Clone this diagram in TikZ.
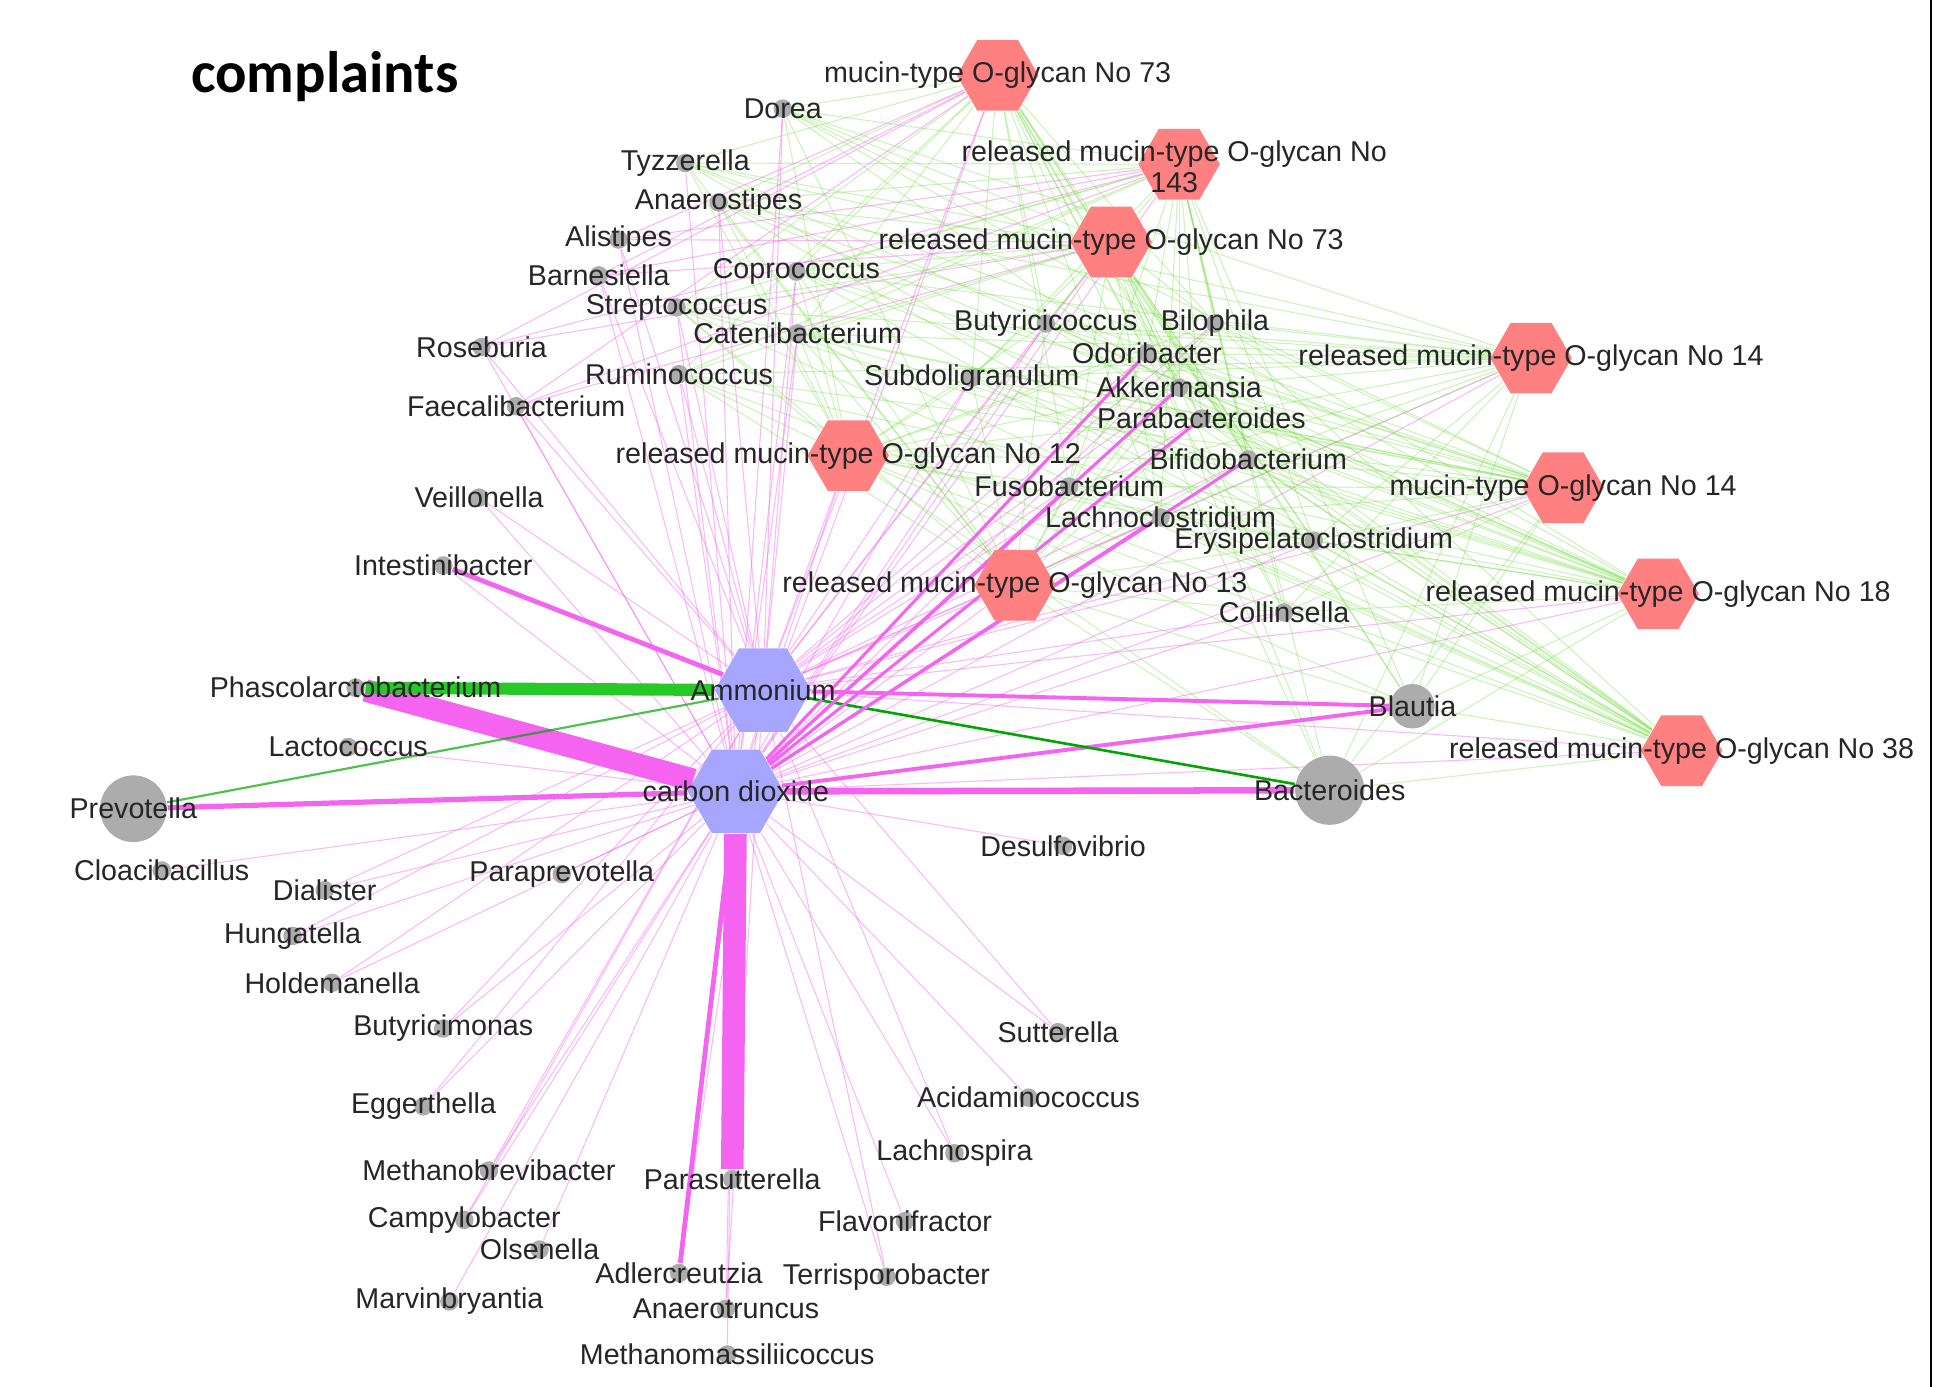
\documentclass[tikz,border=0pt]{standalone}
\usepackage{fontspec}
\setmainfont{Liberation Sans}
\newfontfamily\titlefont{Carlito}
\usetikzlibrary{shapes.geometric,backgrounds}
\definecolor{edgepink}{RGB}{244,100,240}
\definecolor{edgegreen}{RGB}{110,220,60}
\tikzset{
  bac/.style={circle, fill=gray!65, inner sep=0pt, minimum size=0.15cm},
  lbl/.style={font=\fontsize{6.6}{7}\selectfont, text=black!85},
  glycan/.style={regular polygon, regular polygon sides=6, fill=red!50!white, draw=none, minimum size=0.66cm, inner sep=0pt},
  metab/.style={regular polygon, regular polygon sides=6, fill=blue!35!white, draw=none, minimum size=0.78cm, inner sep=0pt},
  pinkedge/.style={draw=edgepink, line width=0.25pt, opacity=0.45},
  greenedge/.style={draw=edgegreen, line width=0.25pt, opacity=0.35},
  fatpink/.style={draw=edgepink},
}
\begin{document}
\begin{tikzpicture}[x=0.01cm, y=-0.01cm]
\useasboundingbox (0,0) rectangle (1568,1123);
\draw[line width=0.6pt] (1564,0) -- (1564,1123);
\node[font=\titlefont\bfseries\fontsize{13.5}{16}\selectfont] (title) at (263,62) {complaints};

% metabolites
\node[metab] (amm) at (618,559) {};
\node[metab] (co2) at (596,641) {};
% glycans
\foreach \n/\x/\y in {g73/808/61, r143/955/133, r73/900/196, r14/1240/290, r12/687/369, m14/1266/395, r13/822/474, r18/1343/481, r38/1362/608}
  \node[glycan] (\n) at (\x,\y) {};
% bacteria
\foreach \n/\x/\y in {dorea/634/88, tyzz/555/132, anaero/582/164, alist/501/194, barnes/485/223, copro/645/220, strep/548/249, caten/646/270,
  roseb/390/281, rumino/550/303, faecal/418/329, butyco/847/262, biloph/984/262, odori/929/286, subdol/787/306, akker/955/314,
  parab/973/339, bifido/1011/372, fuso/866/394, lachnocl/940/419, erysip/1064/438, collin/1040/496, veill/388/403, intest/359/458,
  phasco/288/557, lacto/282/605, cloaca/131/705, dial/263/721, parapre/455/708, hung/237/758, holde/269/796, butyri/359/833,
  egger/343/896, methbr/396/948, campy/376/988, olsen/437/1012, marvin/364/1054, adler/550/1031, parasut/593/955, anaerotr/588/1060,
  methma/589/1097, terris/718/1034, flavo/733/989, lachnos/773/934, acidam/833/889, sutter/857/836, desulf/861/685}
  \node[bac] (\n) at (\x,\y) {};
\node[bac, minimum size=0.54cm] (prevo) at (108,655) {};
\node[bac, minimum size=0.36cm] (blautia) at (1144,572) {};
\node[bac, minimum size=0.56cm] (bactero) at (1077,640) {};

% labels
\foreach \n/\t in {dorea/Dorea, tyzz/Tyzzerella, anaero/Anaerostipes, alist/Alistipes, barnes/Barnesiella, copro/Coprococcus,
  strep/Streptococcus, caten/Catenibacterium, roseb/Roseburia, rumino/Ruminococcus, faecal/Faecalibacterium, butyco/Butyricicoccus,
  biloph/Bilophila, odori/Odoribacter, subdol/Subdoligranulum, akker/Akkermansia, parab/Parabacteroides, bifido/Bifidobacterium,
  fuso/Fusobacterium, lachnocl/Lachnoclostridium, erysip/Erysipelatoclostridium, collin/Collinsella, veill/Veillonella,
  intest/Intestinibacter, phasco/Phascolarctobacterium, lacto/Lactococcus, cloaca/Cloacibacillus, dial/Dialister,
  parapre/Paraprevotella, hung/Hungatella, holde/Holdemanella, butyri/Butyricimonas, egger/Eggerthella, methbr/Methanobrevibacter,
  campy/Campylobacter, olsen/Olsenella, marvin/Marvinbryantia, adler/Adlercreutzia, parasut/Parasutterella, anaerotr/Anaerotruncus,
  methma/Methanomassiliicoccus, terris/Terrisporobacter, flavo/Flavonifractor, lachnos/Lachnospira, acidam/Acidaminococcus,
  sutter/Sutterella, desulf/Desulfovibrio, prevo/Prevotella, blautia/Blautia, bactero/Bacteroides, amm/Ammonium, co2/carbon dioxide,
  g73/mucin-type O-glycan No 73, r73/released mucin-type O-glycan No 73, r14/released mucin-type O-glycan No 14,
  r12/released mucin-type O-glycan No 12, m14/mucin-type O-glycan No 14, r13/released mucin-type O-glycan No 13,
  r18/released mucin-type O-glycan No 18, r38/released mucin-type O-glycan No 38}
  \node[lbl] (\n-l) at (\n) {\t};
\node[lbl, align=center] (r143-l) at (951,135) {released mucin-type O-glycan No\\143};

\begin{scope}[on background layer]
% thin metabolite edges
\foreach \b in {dorea, tyzz, anaero, alist, barnes, copro, strep, caten, roseb, rumino, faecal, butyco, biloph, odori, subdol, akker,
  parab, bifido, fuso, lachnocl, erysip, collin, veill, intest, lacto, cloaca, dial, parapre, hung, holde, butyri, egger, methbr,
  campy, olsen, marvin, anaerotr, methma, terris, flavo, lachnos, acidam, sutter, desulf, g73, r143, r73, r14, r12, m14, r13, r18, r38}
  \draw[pinkedge] (co2) -- (\b);
\foreach \b in {dorea, anaero, alist, barnes, copro, strep, caten, roseb, rumino, faecal, butyco, biloph, odori, subdol, akker,
  parab, bifido, fuso, lachnocl, erysip, collin, veill, dial, hung, holde, butyri, egger, methbr, campy, adler, anaerotr,
  terris, lachnos, sutter, g73, r73, r14, r12, m14, r13, r18, r38}
  \draw[pinkedge] (amm) -- (\b);
% glycan edges
\foreach \g in {g73, r143, r73, r14, r12, m14, r13, r18, r38}
  \foreach \b in {dorea, tyzz, anaero, copro, strep, caten, rumino, butyco, biloph, odori, subdol, akker, parab, bifido,
    fuso, lachnocl, erysip, collin, blautia, bactero}
    \draw[greenedge] (\g) -- (\b);
\foreach \g in {g73, r143, r73}
  \foreach \b in {alist, barnes, faecal, roseb}
    \draw[pinkedge] (\g) -- (\b);
% strong edges
\draw[fatpink, line width=5.2pt] (phasco) -- (co2);
\draw[fatpink, line width=5.2pt] (co2) -- (parasut);
\draw[draw=green!75!black!85, line width=2.8pt] (phasco) -- (amm);
\draw[fatpink, line width=1.2pt] (prevo) -- (co2);
\draw[fatpink, line width=1.5pt] (co2) -- (bactero);
\draw[fatpink, line width=1.1pt] (intest) -- (amm);
\draw[fatpink, line width=0.9pt] (amm) -- (blautia);
\draw[fatpink, line width=0.9pt] (co2) -- (blautia);
\draw[fatpink, line width=1.1pt] (co2) -- (adler);
\draw[draw=green!65!black, line width=0.6pt] (amm) -- (bactero);
\draw[draw=green!65!black, line width=0.5pt, opacity=0.7] (prevo) -- (amm);
\foreach \b in {fuso, bifido, parab, akker, odori, lachnocl}
  \draw[fatpink, line width=0.7pt] (co2) -- (\b);
\end{scope}
\end{tikzpicture}
\end{document}
